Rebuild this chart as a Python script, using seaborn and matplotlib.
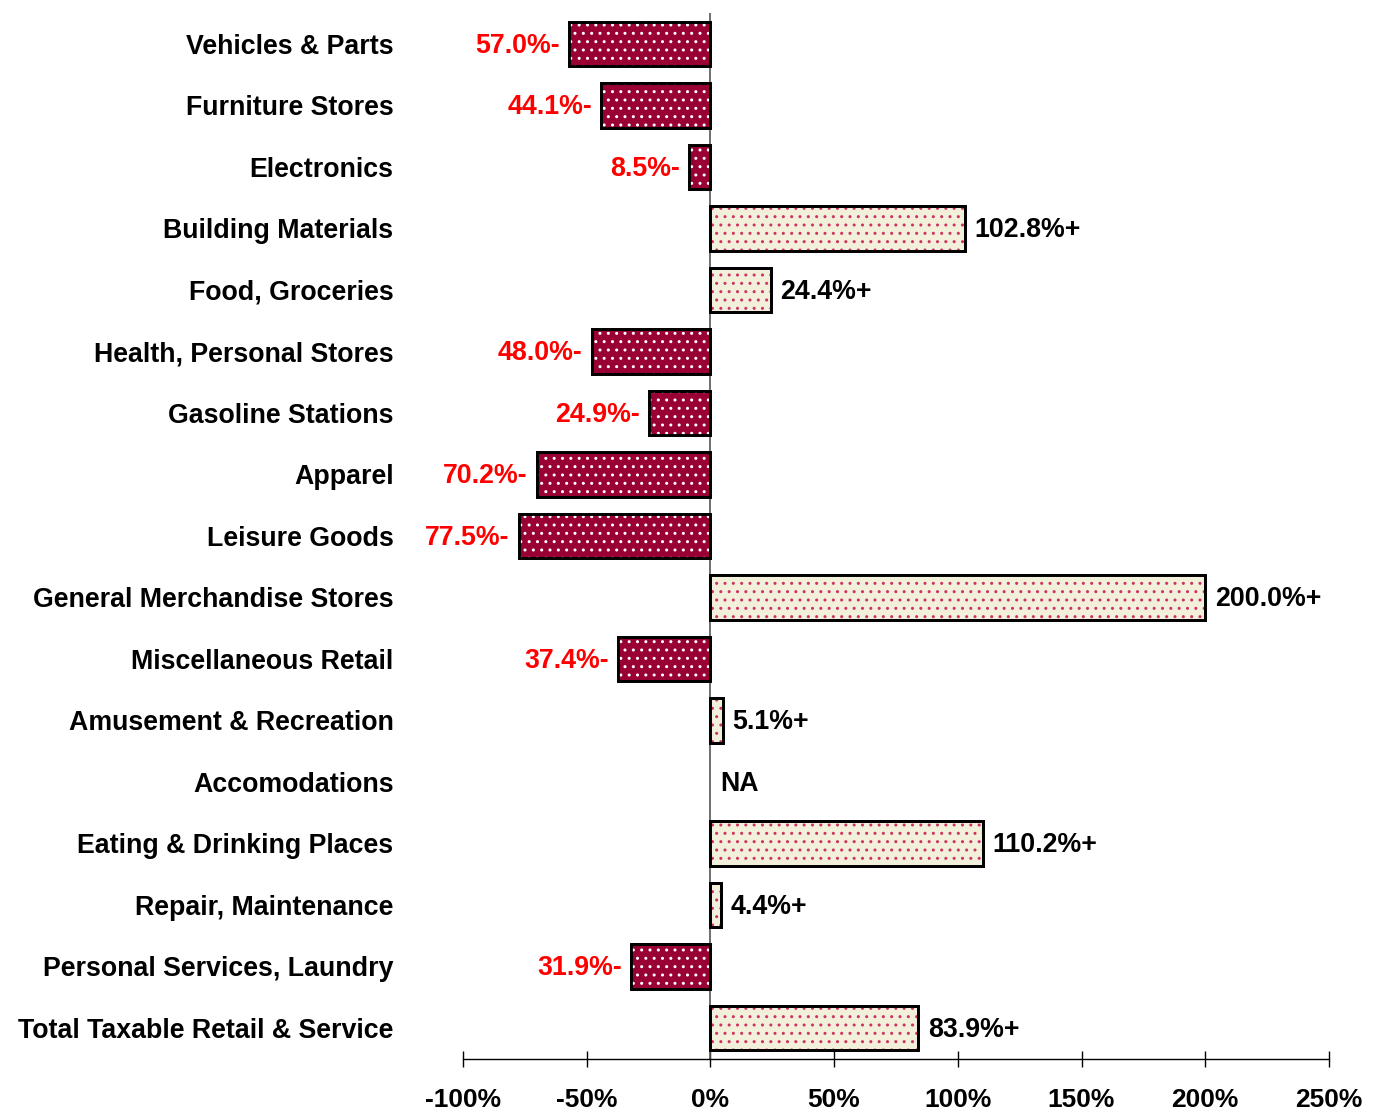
import matplotlib
matplotlib.use("Agg")
import matplotlib.pyplot as plt
from matplotlib.patches import Rectangle
import seaborn as sns
import numpy as np
import pandas as pd

categories = [
    "Vehicles & Parts", "Furniture Stores", "Electronics", "Building Materials",
    "Food, Groceries", "Health, Personal Stores", "Gasoline Stations", "Apparel",
    "Leisure Goods", "General Merchandise Stores", "Miscellaneous Retail",
    "Amusement & Recreation", "Accomodations", "Eating & Drinking Places",
    "Repair, Maintenance", "Personal Services, Laundry", "Total Taxable Retail & Service",
]
values = [-57.0, -44.1, -8.5, 102.8, 24.4, -48.0, -24.9, -70.2, -77.5, 200.0,
          -37.4, 5.1, np.nan, 110.2, 4.4, -31.9, 83.9]
xticks = [-100, -50, 0, 50, 100, 150, 200, 250]
xtick_labels = ["-100%", "-50%", "0%", "50%", "100%", "150%", "200%", "250%"]

NEG_FILL = "#990033"
POS_FILL = "#F2F0DA"
NEG_DOT = "#FFFFFF"
POS_DOT = "#CC3366"
FS = 19.3

sns.set_theme(style="white")
plt.rcParams["font.family"] = ["Liberation Sans", "DejaVu Sans"]
plt.rcParams["hatch.linewidth"] = 1.0

df = pd.DataFrame({"category": categories, "value": values})

fig = plt.figure(figsize=(13.77, 11.1), dpi=100)
ax = fig.add_axes([0.3362, 0.0462, 0.6289, 0.9419])

sns.barplot(data=df, x="value", y="category", order=categories, orient="h",
            width=0.72, color=POS_FILL, ax=ax, errorbar=None)

for p in list(ax.patches):
    w = p.get_width()
    if np.isnan(w):
        continue
    neg = w < 0
    p.set_facecolor(NEG_FILL if neg else POS_FILL)
    p.set_edgecolor("black")
    p.set_linewidth(2.0)
    p.set_zorder(2)
    ax.add_patch(Rectangle((p.get_x(), p.get_y()), p.get_width(), p.get_height(),
                           fill=False, hatch="..", edgecolor=NEG_DOT if neg else POS_DOT,
                           linewidth=0, zorder=3))
    ax.add_patch(Rectangle((p.get_x(), p.get_y()), p.get_width(), p.get_height(),
                           fill=False, edgecolor="black", linewidth=2.0, zorder=4))

ax.set_xlim(-100, 250)
ax.set_ylim(len(categories) - 0.5, -0.5)
ax.axvline(0, color="#555555", linewidth=1.2, zorder=1)

for i, v in enumerate(values):
    if np.isnan(v):
        ax.annotate("NA", xy=(0, i), xytext=(7, -1.2), textcoords="offset points",
                    ha="left", va="center", fontsize=FS, fontweight="bold", color="black")
    elif v < 0:
        ax.annotate(f"{abs(v):.1f}%-", xy=(v, i), xytext=(-6.5, -1.2), textcoords="offset points",
                    ha="right", va="center", fontsize=FS, fontweight="bold", color="#FF0000")
    else:
        ax.annotate(f"{v:.1f}%+", xy=(v, i), xytext=(7, -1.2), textcoords="offset points",
                    ha="left", va="center", fontsize=FS, fontweight="bold", color="black")

for s in ["left", "right", "top"]:
    ax.spines[s].set_visible(False)
ax.spines["bottom"].set_color("black")
ax.spines["bottom"].set_linewidth(1.0)

ax.set_xticks(xticks)
ax.set_xticklabels(xtick_labels, fontsize=19, fontweight="bold", color="black")
ax.tick_params(axis="x", direction="inout", length=12, width=1.0, color="black", pad=15,
               bottom=True, labelcolor="black")
ax.tick_params(axis="y", length=0, pad=50, labelcolor="black")
for lab in ax.get_yticklabels():
    lab.set_fontsize(FS)
    lab.set_fontweight("bold")
    lab.set_color("black")
ax.set_xlabel("")
ax.set_ylabel("")
ax.grid(False)

fig.savefig("out.png", dpi=100)
